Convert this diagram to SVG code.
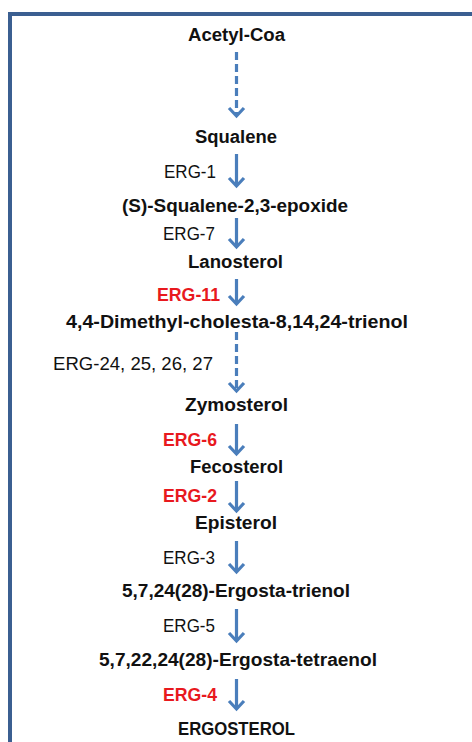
<svg xmlns="http://www.w3.org/2000/svg" width="472" height="742" viewBox="0 0 472 742">
<defs>
<style>
.t{font-family:"Liberation Sans",Arial,sans-serif;font-size:18px;fill:#111}
.b{font-weight:bold}
.r{fill:#e8191e;font-weight:bold}
.ar{stroke:#4a7ebb;stroke-width:3.2;fill:none}
.ds{stroke-dasharray:8 4}
</style>
<marker id="hd" viewBox="-10 -10 20 20" refX="0" refY="0" markerWidth="20" markerHeight="20" markerUnits="userSpaceOnUse" orient="auto">
<path d="M-8,-7.5 L0,0 L-8,7.5" fill="none" stroke="#4a7ebb" stroke-width="3.2" stroke-linejoin="miter"/>
</marker>
</defs>
<rect x="10" y="14" width="600" height="800" fill="#fff" stroke="#3b5f91" stroke-width="4"/>
<g id="connectors">
<path class="ar ds" d="M236.5,52 V116" marker-end="url(#hd)"/>
<path class="ar" d="M236.5,154 V186" marker-end="url(#hd)"/>
<path class="ar" d="M236.5,218 V247" marker-end="url(#hd)"/>
<path class="ar" d="M236.5,279 V304" marker-end="url(#hd)"/>
<path class="ar ds" d="M236.5,332 V391" marker-end="url(#hd)"/>
<path class="ar" d="M236.5,424 V454" marker-end="url(#hd)"/>
<path class="ar" d="M236.5,481 V511" marker-end="url(#hd)"/>
<path class="ar" d="M236.5,541 V572" marker-end="url(#hd)"/>
<path class="ar" d="M236.5,609 V641" marker-end="url(#hd)"/>
<path class="ar" d="M236.5,679 V709" marker-end="url(#hd)"/>
</g>
<g id="acetyl-coa"><text class="t b" x="188" y="41" textLength="97" lengthAdjust="spacingAndGlyphs">Acetyl-Coa</text></g>
<g id="squalene"><text class="t b" x="195" y="143" textLength="82" lengthAdjust="spacingAndGlyphs">Squalene</text></g>
<g id="erg1"><text class="t" x="164" y="178" textLength="52" lengthAdjust="spacingAndGlyphs">ERG-1</text></g>
<g id="epoxide"><text class="t b" x="122" y="212" textLength="226" lengthAdjust="spacingAndGlyphs">(S)-Squalene-2,3-epoxide</text></g>
<g id="erg7"><text class="t" x="163" y="240" textLength="52" lengthAdjust="spacingAndGlyphs">ERG-7</text></g>
<g id="lanosterol"><text class="t b" x="188" y="268" textLength="95" lengthAdjust="spacingAndGlyphs">Lanosterol</text></g>
<g id="erg11"><text class="t r" x="157" y="301" textLength="63" lengthAdjust="spacingAndGlyphs">ERG-11</text></g>
<g id="dimethyl"><text class="t b" x="66" y="328" textLength="342" lengthAdjust="spacingAndGlyphs">4,4-Dimethyl-cholesta-8,14,24-trienol</text></g>
<g id="erg24"><text class="t" x="53" y="370" textLength="160" lengthAdjust="spacingAndGlyphs">ERG-24, 25, 26, 27</text></g>
<g id="zymosterol"><text class="t b" x="185" y="411" textLength="103" lengthAdjust="spacingAndGlyphs">Zymosterol</text></g>
<g id="erg6"><text class="t r" x="163" y="446" textLength="54" lengthAdjust="spacingAndGlyphs">ERG-6</text></g>
<g id="fecosterol"><text class="t b" x="190" y="473" textLength="93" lengthAdjust="spacingAndGlyphs">Fecosterol</text></g>
<g id="erg2"><text class="t r" x="163" y="502" textLength="54" lengthAdjust="spacingAndGlyphs">ERG-2</text></g>
<g id="episterol"><text class="t b" x="195" y="529" textLength="82" lengthAdjust="spacingAndGlyphs">Episterol</text></g>
<g id="erg3"><text class="t" x="163" y="564" textLength="52" lengthAdjust="spacingAndGlyphs">ERG-3</text></g>
<g id="trienol"><text class="t b" x="122" y="597" textLength="228" lengthAdjust="spacingAndGlyphs">5,7,24(28)-Ergosta-trienol</text></g>
<g id="erg5"><text class="t" x="163" y="632" textLength="52" lengthAdjust="spacingAndGlyphs">ERG-5</text></g>
<g id="tetraenol"><text class="t b" x="99" y="666" textLength="278" lengthAdjust="spacingAndGlyphs">5,7,22,24(28)-Ergosta-tetraenol</text></g>
<g id="erg4"><text class="t r" x="163" y="701" textLength="54" lengthAdjust="spacingAndGlyphs">ERG-4</text></g>
<g id="ergosterol"><text class="t b" x="178" y="735" textLength="117" lengthAdjust="spacingAndGlyphs">ERGOSTEROL</text></g>
</svg>
